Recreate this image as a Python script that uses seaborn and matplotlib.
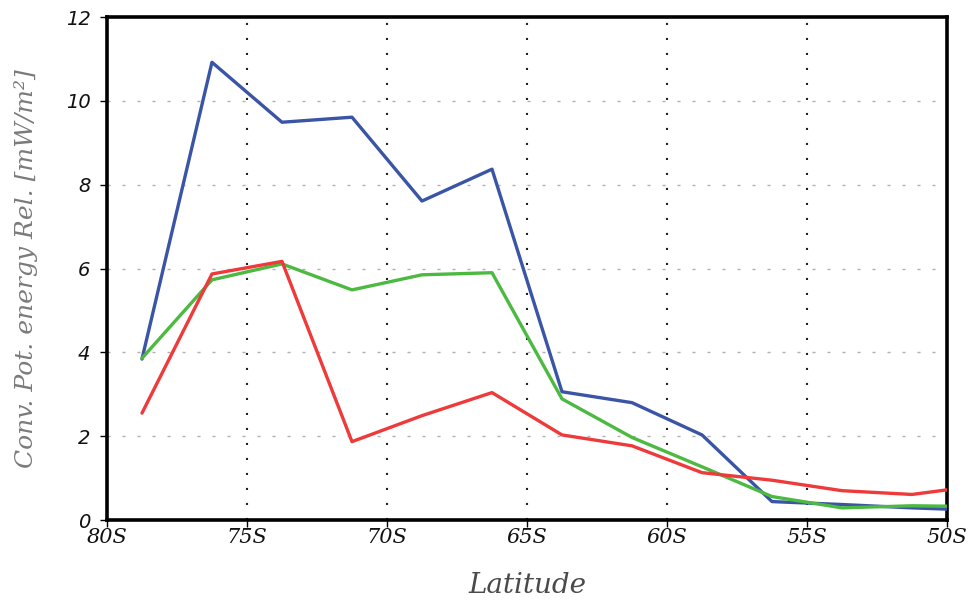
import numpy as np
import pandas as pd
import matplotlib
matplotlib.use("Agg")
import matplotlib.pyplot as plt
import seaborn as sns

# ---- data ----
latitude = [-78.75, -76.25, -73.75, -71.25, -68.75, -66.25, -63.75,
            -61.25, -58.75, -56.25, -53.75, -51.25, -50.0]
blue_vals = [3.84, 10.92, 9.49, 9.61, 7.61, 8.37, 3.06, 2.80, 2.03, 0.44, 0.37, 0.29, 0.26]
green_vals = [3.86, 5.73, 6.11, 5.49, 5.85, 5.90, 2.89, 1.97, 1.27, 0.56, 0.29, 0.34, 0.33]
red_vals = [2.55, 5.87, 6.17, 1.87, 2.49, 3.04, 2.03, 1.77, 1.13, 0.95, 0.70, 0.61, 0.72]
series_names = ["blue", "green", "red"]
series_colors = ["#3a54a6", "#4cb940", "#ee3a3a"]
x_ticks = [-80, -75, -70, -65, -60, -55, -50]
x_tick_labels = ["80S", "75S", "70S", "65S", "60S", "55S", "50S"]
y_ticks = [0, 2, 4, 6, 8, 10, 12]

df = pd.DataFrame({
    "lat": latitude * 3,
    "val": blue_vals + green_vals + red_vals,
    "series": [n for n in series_names for _ in latitude],
})

sns.set_style("white")
fig = plt.figure(figsize=(9.76, 6.1), dpi=100)
ax = fig.add_axes([0.1096, 0.1475, 0.8607, 0.8246])

sns.lineplot(data=df, x="lat", y="val", hue="series", hue_order=series_names,
             palette=dict(zip(series_names, series_colors)), linewidth=2.4,
             legend=False, ax=ax, zorder=3)

ax.set_xlim(-80, -50)
ax.set_ylim(0, 12)
ax.set_xticks(x_ticks)
ax.set_xticklabels(x_tick_labels, family="DejaVu Serif", style="italic", fontsize=15,
                   color="#111111")
ax.set_yticks(y_ticks)
ax.set_yticklabels([str(v) for v in y_ticks], family="DejaVu Sans", style="italic",
                   fontsize=14, color="#111111")

# grids
for yv in y_ticks[1:-1]:
    ax.axhline(yv, color="#b0b0b0", linestyle=(0, (2.2, 8.6)), linewidth=1.0, zorder=1)
for xv in x_ticks[1:-1]:
    ax.axvline(xv, color="#222222", linestyle=(0, (1, 6.2)), linewidth=1.5, zorder=1)

for s in ax.spines.values():
    s.set_linewidth(2.6)
    s.set_color("black")
ax.tick_params(axis="both", direction="out", length=5, width=1, color="black",
               bottom=True, left=True)
ax.tick_params(axis="y", pad=7)
ax.tick_params(axis="x", pad=1)

ax.set_xlabel("Latitude", family="DejaVu Serif", style="italic", fontsize=20,
              color="#4a4a4a", labelpad=18)
ax.set_ylabel("Conv. Pot. energy Rel. [mW/m²]", family="DejaVu Serif", style="italic",
              fontsize=18, color="#7a7a7a", labelpad=20)

fig.savefig("out.png", dpi=100)
